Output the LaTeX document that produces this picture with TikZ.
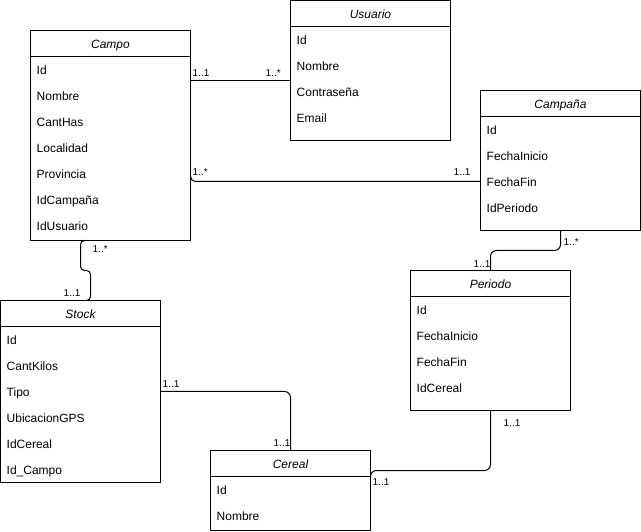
\documentclass[tikz,border=0pt]{standalone}
\usepackage{fontspec}
\setmainfont{Liberation Sans}
\tikzset{
  box/.style={draw, line width=1pt, inner sep=0pt, outer sep=0pt, anchor=north west, minimum width=160pt},
  ttl/.style={font=\itshape\fontsize{12}{14}\selectfont, inner sep=0pt, anchor=base},
  fld/.style={font=\fontsize{12}{14}\selectfont, inner sep=0pt, anchor=base west},
  card/.style={font=\fontsize{10}{12}\selectfont, inner sep=0pt, anchor=base west},
  conn/.style={line width=1pt, rounded corners=5pt},
}
\newcommand\erentity[5]{% name, x, y, height, title
  \node[box, minimum height=#4pt] (#1) at (#2,#3) {};
  \draw[line width=1pt] ([yshift=-26pt]#1.north west) -- ([yshift=-26pt]#1.north east);
  \node[ttl] (#1-t) at ([yshift=-18pt]#1.north) {#5};
}
\newcommand\erfields[2]{%
  \foreach \t [count=\i] in {#2}
    \node[fld] (#1-\i) at ([xshift=6pt,yshift={-44pt-26pt*(\i-1)}]#1.north west) {\t};
}
\begin{document}
\begin{tikzpicture}[x=1pt,y=-1pt]
\useasboundingbox (-0.5,-0.5) rectangle (640.5,531.5);

\erentity{campo}{30}{30}{210}{Campo}
\erfields{campo}{Id,Nombre,CantHas,Localidad,Provincia,IdCampaña,IdUsuario}

\erentity{usuario}{290}{0}{140}{Usuario}
\erfields{usuario}{Id,Nombre,Contraseña,Email}

\erentity{campana}{480}{90}{140}{Campaña}
\erfields{campana}{Id,FechaInicio,FechaFin,IdPeriodo}

\erentity{periodo}{410}{270}{140}{Periodo}
\erfields{periodo}{Id,FechaInicio,FechaFin,IdCereal}

\erentity{stock}{0}{300}{182}{Stock}
\erfields{stock}{Id,CantKilos,Tipo,UbicacionGPS,IdCereal,Id\_Campo}

\erentity{cereal}{210}{450}{80}{Cereal}
\erfields{cereal}{Id,Nombre}

% Campo - Usuario
\draw[conn] ([yshift=-50pt]campo.north east) -- ([yshift=-80pt]usuario.north west);
\node[card] (l1a) at (192,76) {1..1};
\node[card] (l1b) at (265,76) {1..*};

% Campo - Campaña
\draw[conn] ([yshift=-91pt]campana.north west) -- ++(-290,0) -- ++(0,-6);
\node[card] (l2a) at (192,175) {1..*};
\node[card] (l2b) at (453,175) {1..1};

% Campo - Stock
\draw[line width=1pt, rounded corners=4pt] ([xshift=55pt]campo.south west) -- ++(-5,0) -- ++(0,30) -- ++(10,0) -- ++(0,30) -- ++(-4,0);
\node[card] (l3a) at (92,252) {1..*};
\node[card] (l3b) at (63,296) {1..1};

% Campaña - Periodo
\draw[line width=1pt, rounded corners=6pt] ([xshift=80pt]campana.south west) -- ++(0,20) -- ++(-70,0) -- ([xshift=80pt]periodo.north west);
\node[card] (l4a) at (563,245) {1..*};
\node[card] (l4b) at (473,267) {1..1};

% Stock - Cereal
\draw[line width=1pt, rounded corners=6pt] ([yshift=-91pt]stock.north east) -- ++(130,0) -- ([xshift=80pt]cereal.north west);
\node[card] (l5a) at (162,387) {1..1};
\node[card] (l5b) at (273,446) {1..1};

% Periodo - Cereal
\draw[line width=1pt, rounded corners=6pt] ([xshift=80pt]periodo.south west) -- ++(0,60) -- ++(-120,0) -- ([yshift=-27pt]cereal.north east);
\node[card] (l6a) at (503,426) {1..1};
\node[card] (l6b) at (372,485) {1..1};
\end{tikzpicture}
\end{document}
